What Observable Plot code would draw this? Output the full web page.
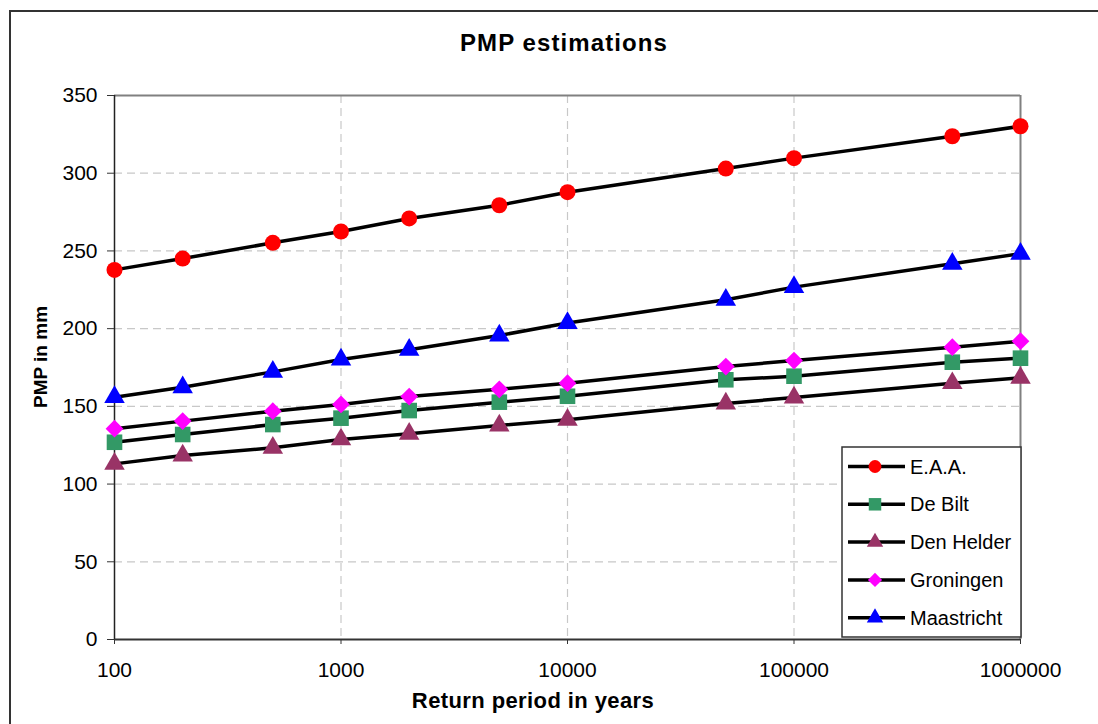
<!DOCTYPE html>
<html>
<head>
<meta charset="utf-8">
<script src="https://cdn.jsdelivr.net/npm/d3@7"></script>
<script src="https://cdn.jsdelivr.net/npm/@observablehq/plot@0.6"></script>
<style>
  html, body { margin: 0; padding: 0; background: #fff; overflow: hidden; }
  #wrap { position: relative; width: 1098px; height: 724px; overflow: hidden; }
  #border { position: absolute; left: 9px; top: 10px; width: 1200px; height: 800px; border: 2px solid #333; box-sizing: border-box; }
  #chart { position: absolute; left: 0; top: 0; }
</style>
</head>
<body>
<div id="wrap"><div id="border"></div><div id="chart"></div></div>
<script>
// ---- data ----
const returnPeriods = [100, 200, 500, 1000, 2000, 5000, 10000, 50000, 100000, 500000, 1000000];
const seriesNames = ["E.A.A.", "De Bilt", "Den Helder", "Groningen", "Maastricht"];
const eaa        = [237.8, 245.1, 255.2, 262.5, 270.9, 279.4, 287.8, 303.0, 309.7, 323.8, 330.2];
const deBilt     = [126.9, 131.9, 138.3, 142.4, 147.3, 152.7, 156.5, 167.1, 169.4, 178.4, 181.0];
const denHelder  = [113.0, 118.4, 123.3, 128.7, 132.3, 137.7, 141.4, 151.8, 155.7, 164.9, 168.4];
const groningen  = [135.6, 140.5, 146.9, 151.2, 156.3, 161.0, 164.9, 175.6, 179.5, 188.1, 191.9];
const maastricht = [155.9, 162.3, 172.2, 180.1, 186.4, 195.6, 203.6, 218.6, 226.7, 241.7, 248.2];
const xTicks = [100, 1000, 10000, 100000, 1000000];
const yTicks = [0, 50, 100, 150, 200, 250, 300, 350];
const titleText = "PMP estimations";
const xLabel = "Return period in years";
const yLabel = "PMP in mm";

// ---- styles ----
const seriesValues = [eaa, deBilt, denHelder, groningen, maastricht];
const colors  = ["#FF0000", "#339966", "#993366", "#FF00FF", "#0000FF"];
const symbols = ["circle", "square", "triangle", "diamond2", "triangle"];
const radii   = [8, 8.8, 7.6, 8, 7.6];
const legendScale = 0.8;

const rows = [];
seriesNames.forEach((s, i) => returnPeriods.forEach((p, j) => rows.push({series: s, period: p, value: seriesValues[i][j]})));

const gridStyle = {stroke: "#c8c8c8", strokeOpacity: 1, strokeWidth: 1.2, strokeDasharray: "8,5"};
const marks = [
  Plot.gridY(yTicks.filter(d => d > 0 && d < 350), gridStyle),
  Plot.gridX(xTicks.filter(d => d > 100 && d < 1000000), gridStyle),
  Plot.ruleY([350], {stroke: "#808080", strokeWidth: 2}),
  Plot.ruleX([1000000], {stroke: "#808080", strokeWidth: 2}),
  Plot.ruleY([0], {stroke: "#333", strokeWidth: 2}),
  Plot.ruleX([100], {stroke: "#222", strokeWidth: 1.5}),
  Plot.axisX({ticks: xTicks, tickFormat: d => String(d), tickSize: 5, tickPadding: 18, label: null, stroke: "#333"}),
  Plot.axisY({ticks: yTicks, tickSize: 7, tickPadding: 10, label: null, stroke: "#333"})
];
seriesNames.forEach((s, i) => {
  const d = rows.filter(r => r.series === s);
  marks.push(Plot.line(d, {x: "period", y: "value", stroke: "black", strokeWidth: 3.5}));
  marks.push(Plot.dot(d, {x: "period", y: "value", symbol: () => symbols[i], fill: colors[i], r: radii[i], stroke: "none"}));
});

const chart = Plot.plot({
  width: 1098,
  height: 724,
  marginLeft: 114,
  marginRight: 78,
  marginTop: 95,
  marginBottom: 85,
  style: {fontFamily: "'Liberation Sans', Arial, sans-serif", fontSize: "21px", color: "#000", background: "transparent"},
  x: {type: "log", domain: [100, 1000000]},
  y: {domain: [0, 350]},
  symbol: {type: "identity"},
  marks
});
document.getElementById("chart").appendChild(chart);

// ---- title, axis labels, legend ----
const svg = d3.select(chart);
const f = "'Liberation Sans', Arial, sans-serif";
svg.append("text").attr("x", 564).attr("y", 51).attr("text-anchor", "middle")
  .attr("font-family", f).attr("font-size", 24).attr("font-weight", "bold").attr("letter-spacing", "1.1px")
  .attr("fill", "#000").text(titleText);
svg.append("text").attr("x", 533).attr("y", 708).attr("text-anchor", "middle")
  .attr("font-family", f).attr("font-size", 22).attr("font-weight", "bold").attr("letter-spacing", "0.4px")
  .attr("fill", "#000").text(xLabel);
svg.append("text").attr("transform", "translate(47,357) rotate(-90)").attr("text-anchor", "middle")
  .attr("font-family", f).attr("font-size", 19).attr("font-weight", "bold")
  .attr("fill", "#000").text(yLabel);

const symMap = {circle: d3.symbolCircle, square: d3.symbolSquare, triangle: d3.symbolTriangle, diamond2: d3.symbolDiamond2};
const lg = svg.append("g");
lg.append("rect").attr("x", 842).attr("y", 447).attr("width", 179).attr("height", 190)
  .attr("fill", "#fff").attr("stroke", "#333").attr("stroke-width", 1.5);
seriesNames.forEach((s, i) => {
  const cy = 466.5 + i * 37.8;
  lg.append("line").attr("x1", 848).attr("x2", 905).attr("y1", cy).attr("y2", cy)
    .attr("stroke", "#000").attr("stroke-width", 3.5);
  const rr = radii[i] * legendScale;
  lg.append("path").attr("transform", `translate(875,${cy})`)
    .attr("d", d3.symbol(symMap[symbols[i]], Math.PI * rr * rr)())
    .attr("fill", colors[i]);
  lg.append("text").attr("x", 910).attr("y", cy + 7).attr("text-anchor", "start")
    .attr("font-family", f).attr("font-size", 20)
    .attr("fill", "#000").text(s);
});
</script>
</body>
</html>
